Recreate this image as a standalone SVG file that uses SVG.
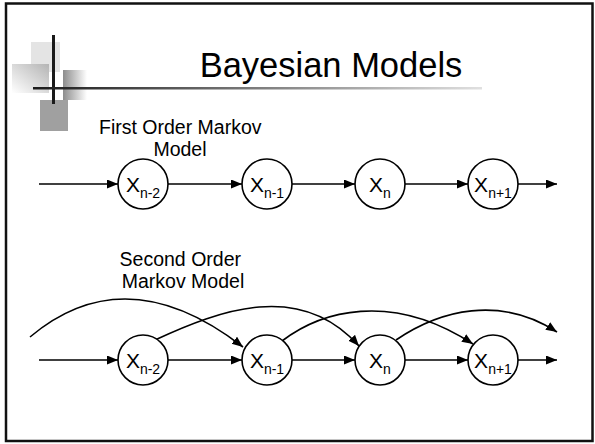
<svg xmlns="http://www.w3.org/2000/svg" width="595" height="444" viewBox="0 0 595 444">
  <style>
    .t { font-family: "Liberation Sans", Arial, sans-serif; fill: #000; }
    .node circle { fill: #fff; stroke: #000; stroke-width: 1.6; }
    .lbl { font-family: "Liberation Sans", Arial, sans-serif; font-size: 21px; text-anchor: middle; fill: #000; }
    .sub { font-size: 14px; }
    .edge { fill: none; stroke: #000; stroke-width: 1.6; marker-end: url(#arrow); }
  </style>
  <defs>
    <marker id="arrow" markerUnits="userSpaceOnUse" markerWidth="12" markerHeight="10" refX="11" refY="4.5" orient="auto">
      <path d="M0,0 L11,4.5 L0,9 Z" fill="#000"/>
    </marker>
    <linearGradient id="rule" x1="0" y1="0" x2="1" y2="0">
      <stop offset="0" stop-color="#1a1a1a"/>
      <stop offset="1" stop-color="#e0e0e0"/>
    </linearGradient>
    <linearGradient id="fadeLeft" x1="1" y1="0" x2="0" y2="1">
      <stop offset="0" stop-color="#b4b4b4"/>
      <stop offset="1" stop-color="#ffffff"/>
    </linearGradient>
    <linearGradient id="fadeRight" x1="0" y1="0" x2="1" y2="0">
      <stop offset="0" stop-color="#8c8c8c"/>
      <stop offset="1" stop-color="#ffffff"/>
    </linearGradient>
  </defs>

  <rect width="595" height="444" fill="#fff"/>
  <!-- slide frame -->
  <rect x="6" y="3.5" width="586.5" height="437.5" fill="none" stroke="#111" stroke-width="2.5"/>

  <!-- corner ornament -->
  <g id="ornament">
    <rect x="31" y="42" width="29" height="30" fill="#e4e4e4"/>
    <rect x="12" y="64" width="37" height="29" fill="url(#fadeLeft)"/>
    <rect x="63" y="70" width="24" height="30" fill="url(#fadeRight)"/>
    <rect x="40" y="100" width="28" height="31" fill="#a0a0a0"/>
    <rect x="52" y="35" width="3" height="69" fill="#1a1a1a"/>
    <rect x="33" y="87" width="449" height="2.5" fill="url(#rule)"/>
  </g>

  <text class="t" x="331" y="77" font-size="34.5" text-anchor="middle">Bayesian Models</text>

  <text class="t" font-size="19.5" text-anchor="middle">
    <tspan x="183" y="134">First Order Markov</tspan>
    <tspan x="180" y="156">Model</tspan>
  </text>
  <text class="t" font-size="19.5" text-anchor="middle">
    <tspan x="183" y="266">Second Order</tspan>
    <tspan x="183" y="288">Markov Model</tspan>
  </text>

  <!-- connectors -->
  <g id="connectors">
    <!-- first order chain -->
    <line class="edge" x1="39" y1="184" x2="118" y2="184"/>
    <line class="edge" x1="168" y1="184" x2="242" y2="184"/>
    <line class="edge" x1="292" y1="184" x2="355" y2="184"/>
    <line class="edge" x1="405" y1="184" x2="468" y2="184"/>
    <line class="edge" x1="518" y1="184" x2="557" y2="184"/>
    <!-- second order chain -->
    <line class="edge" x1="39" y1="360" x2="118" y2="360"/>
    <line class="edge" x1="168" y1="360" x2="242" y2="360"/>
    <line class="edge" x1="292" y1="360" x2="355" y2="360"/>
    <line class="edge" x1="405" y1="360" x2="468" y2="360"/>
    <line class="edge" x1="518" y1="360" x2="557" y2="360"/>
    <!-- skip links -->
    <path class="edge" d="M30,337 C80,295 150,275 243,347"/>
    <path class="edge" d="M155,340 C220,310 300,280 359,346"/>
    <path class="edge" d="M282,341 C320,312 390,290 473,344"/>
    <path class="edge" d="M396,340 C440,310 500,295 557,332"/>
  </g>

  <!-- first order nodes -->
  <g id="f-n2" class="node"><circle cx="143" cy="184" r="25"/><text class="lbl" x="143" y="192">X<tspan class="sub" dy="6">n-2</tspan></text></g>
  <g id="f-n1" class="node"><circle cx="267" cy="184" r="25"/><text class="lbl" x="267" y="192">X<tspan class="sub" dy="6">n-1</tspan></text></g>
  <g id="f-n0" class="node"><circle cx="380" cy="184" r="25"/><text class="lbl" x="380" y="192">X<tspan class="sub" dy="6">n</tspan></text></g>
  <g id="f-p1" class="node"><circle cx="493" cy="184" r="25"/><text class="lbl" x="493" y="192">X<tspan class="sub" dy="6">n+1</tspan></text></g>

  <!-- second order nodes -->
  <g id="s-n2" class="node"><circle cx="143" cy="360" r="25"/><text class="lbl" x="143" y="368">X<tspan class="sub" dy="6">n-2</tspan></text></g>
  <g id="s-n1" class="node"><circle cx="267" cy="360" r="25"/><text class="lbl" x="267" y="368">X<tspan class="sub" dy="6">n-1</tspan></text></g>
  <g id="s-n0" class="node"><circle cx="380" cy="360" r="25"/><text class="lbl" x="380" y="368">X<tspan class="sub" dy="6">n</tspan></text></g>
  <g id="s-p1" class="node"><circle cx="493" cy="360" r="25"/><text class="lbl" x="493" y="368">X<tspan class="sub" dy="6">n+1</tspan></text></g>
</svg>
